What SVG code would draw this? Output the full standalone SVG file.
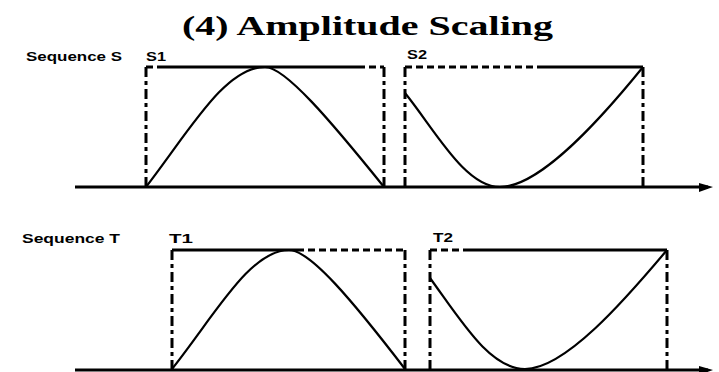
<svg xmlns="http://www.w3.org/2000/svg" width="719" height="372" viewBox="0 0 719 372">
<style>
.bg{fill:#fff}
.axis{stroke:#000;stroke-width:3;fill:none}
.solid{stroke:#000;stroke-width:3;fill:none}
.dash{stroke:#000;stroke-width:3;fill:none;stroke-dasharray:7 4}
.vdash{stroke:#000;stroke-width:3;fill:none;stroke-dasharray:10 4 4 4}
.curve{stroke:#000;stroke-width:2.2;fill:none}
.head{fill:#000}
.title{font-family:"Liberation Serif","DejaVu Serif",serif;font-weight:bold;font-size:28px;fill:#000}
.lbl{font-family:"Liberation Sans","DejaVu Sans",sans-serif;font-weight:bold;font-size:13px;fill:#000}
</style>
<rect class="bg" x="0" y="0" width="719" height="372"/>
<g id="title">
<text class="title" x="182" y="35" textLength="371" lengthAdjust="spacingAndGlyphs">(4) Amplitude Scaling</text>
</g>
<g id="sequence-s">
<text class="lbl" x="26" y="61" textLength="96" lengthAdjust="spacingAndGlyphs">Sequence S</text>
<g id="s1">
<text class="lbl" x="146" y="61" textLength="20" lengthAdjust="spacingAndGlyphs">S1</text>
<path class="dash" d="M146,67 H158"/>
<path class="solid" d="M158,67 H358"/>
<path class="dash" d="M358,67 H384"/>
<path class="vdash" d="M146,67 V187"/>
<path class="vdash" d="M384,67 V187"/>
<path class="curve" d="M146,187 C190,130 225,67 265,67 C285,67 330,120 384,187"/>
</g>
<g id="s2">
<text class="lbl" x="407" y="59" font-size="12" textLength="20" lengthAdjust="spacingAndGlyphs">S2</text>
<path class="dash" d="M405,67 H540"/>
<path class="solid" d="M540,67 H643"/>
<path class="vdash" d="M405,67 V187"/>
<path class="vdash" d="M643,67 V187"/>
<path class="curve" d="M405,93 C435,130 465,187 500,187 C540,187 600,120 643,67"/>
</g>
</g>
<g id="sequence-t">
<text class="lbl" x="22" y="243" textLength="98" lengthAdjust="spacingAndGlyphs">Sequence T</text>
<g id="t1">
<text class="lbl" x="169" y="243" textLength="24" lengthAdjust="spacingAndGlyphs">T1</text>
<path class="solid" d="M172,250 H297"/>
<path class="dash" d="M297,250 H405"/>
<path class="vdash" d="M172,250 V369"/>
<path class="vdash" d="M405,250 V369"/>
<path class="curve" d="M172,369 C215,315 250,250 289,250 C310,250 352,300 405,369"/>
</g>
<g id="t2">
<text class="lbl" x="433" y="242" font-size="12" textLength="20" lengthAdjust="spacingAndGlyphs">T2</text>
<path class="dash" d="M430,250 H468"/>
<path class="solid" d="M468,250 H667"/>
<path class="vdash" d="M430,250 V369"/>
<path class="vdash" d="M667,250 V369"/>
<path class="curve" d="M430,278 C462,322 490,369 525,369 C565,369 625,300 667,250"/>
</g>
</g>
<g id="connectors">
<path class="axis" d="M75,187 H708"/>
<polygon class="head" points="699,183 713,187 699,192"/>
<path class="axis" d="M75,370 H708"/>
<polygon class="head" points="699,366 713,370 699,375"/>
</g>
</svg>
